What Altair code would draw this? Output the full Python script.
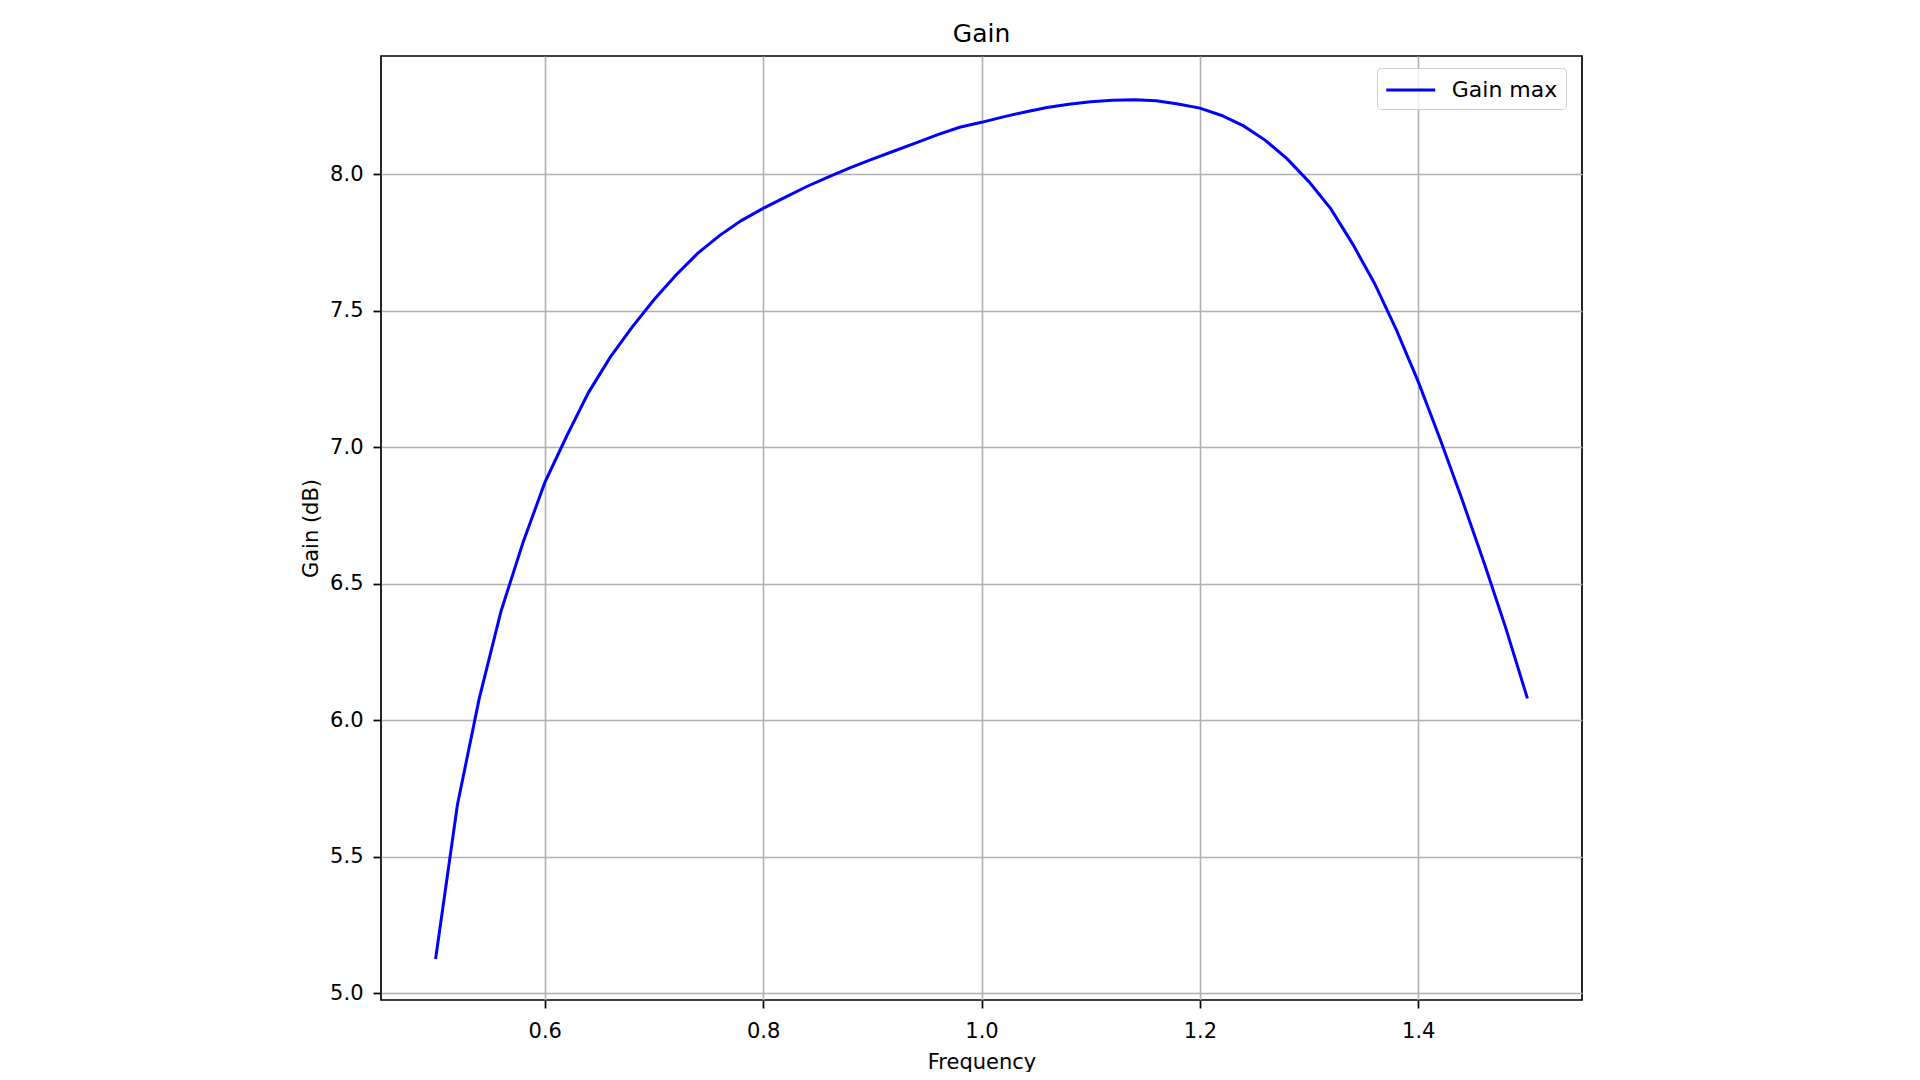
import altair as alt
import pandas as pd

freq = [0.50, 0.52, 0.54, 0.56, 0.58, 0.60, 0.62, 0.64, 0.66, 0.68,
        0.70, 0.72, 0.74, 0.76, 0.78, 0.80, 0.82, 0.84, 0.86, 0.88,
        0.90, 0.92, 0.94, 0.96, 0.98, 1.00, 1.02, 1.04, 1.06, 1.08,
        1.10, 1.12, 1.14, 1.16, 1.18, 1.20, 1.22, 1.24, 1.26, 1.28,
        1.30, 1.32, 1.34, 1.36, 1.38, 1.40, 1.42, 1.44, 1.46, 1.48, 1.50]
gain = [5.125, 5.69, 6.08, 6.40, 6.65, 6.87, 7.04, 7.20, 7.33, 7.44,
        7.54, 7.63, 7.71, 7.775, 7.83, 7.875, 7.915, 7.955, 7.99, 8.024,
        8.055, 8.085, 8.115, 8.145, 8.172, 8.19, 8.21, 8.228, 8.244, 8.256,
        8.265, 8.271, 8.273, 8.269, 8.257, 8.242, 8.215, 8.177, 8.124, 8.056,
        7.972, 7.873, 7.744, 7.60, 7.43, 7.24, 7.03, 6.81, 6.58, 6.34, 6.08]
series_name = "Gain max"
x_ticks = [0.6, 0.8, 1.0, 1.2, 1.4]
y_ticks = [5.0, 5.5, 6.0, 6.5, 7.0, 7.5, 8.0]

df = pd.DataFrame({"freq": freq, "gain": gain, "series": [series_name] * len(freq)})

FONT = "DejaVu Sans"

chart = alt.Chart(df).mark_line(strokeWidth=3, clip=True).encode(
    x=alt.X("freq:Q",
            scale=alt.Scale(domain=[0.45, 1.55], nice=False, zero=False),
            axis=alt.Axis(values=x_ticks, format=".1f", title="Frequency",
                          labelPadding=12, titlePadding=10)),
    y=alt.Y("gain:Q",
            scale=alt.Scale(domain=[4.975, 8.433], nice=False, zero=False),
            axis=alt.Axis(values=y_ticks, format=".1f", title="Gain (dB)",
                          labelPadding=10, titlePadding=8)),
    color=alt.Color("series:N",
                    scale=alt.Scale(domain=[series_name], range=["#0000ff"]),
                    legend=alt.Legend(title=None, orient="none", legendX=996, legendY=12,
                                      symbolType="M-2,0L2,0", symbolSize=600,
                                      symbolOffset=11.75,
                                      symbolStrokeWidth=3, symbolStrokeColor="#0000ff",
                                      symbolFillColor="transparent",
                                      labelFontSize=22,
                                      labelFont=FONT, labelColor="black",
                                      labelOffset=27, padding=8,
                                      strokeColor="#cccccc", fillColor="rgba(255,255,255,0.8)",
                                      cornerRadius=4)),
).properties(
    width=1201,
    height=944,
    title=alt.TitleParams("Gain", fontSize=25, font=FONT, fontWeight="normal",
                          offset=9, color="black"),
    autosize=alt.AutoSizeParams(type="none"),
    padding={"left": 373, "top": 48, "right": 300, "bottom": 72},
).configure_view(
    stroke="black", strokeWidth=1.7
).configure_axis(
    labelFont=FONT, labelFontSize=21, labelColor="black",
    titleFont=FONT, titleFontSize=21, titleFontWeight="normal", titleColor="black",
    tickSize=8, tickWidth=1.7, tickColor="black",
    domain=False,
    gridColor="#b0b0b0", gridWidth=1.6, gridOpacity=1,
)

chart.save("out.html", embed_options={"renderer": "svg", "actions": False})
